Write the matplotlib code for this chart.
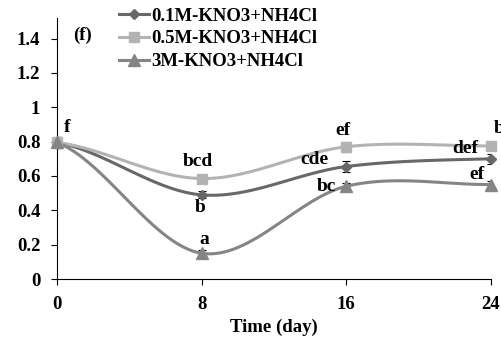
import numpy as np
import matplotlib.pyplot as plt
from matplotlib.lines import Line2D

plt.rcParams['font.family'] = ['Liberation Serif', 'DejaVu Serif']
plt.rcParams['font.weight'] = 'bold'

days = [0, 8, 16, 24]
series = ['0.1M-KNO3+NH4Cl', '0.5M-KNO3+NH4Cl', '3M-KNO3+NH4Cl']
vals_01 = [0.795, 0.49, 0.655, 0.70]
vals_05 = [0.795, 0.585, 0.77, 0.775]
vals_3 = [0.795, 0.15, 0.54, 0.55]
err_01 = [0.03, 0.02, 0.03, 0.03]
err_05 = [0.03, 0.02, 0.03, 0.02]
err_3 = [0.03, 0.02, 0.02, 0.02]
colors = ['#686868', '#b3b3b3', '#858585']
markers = ['D', 's', '^']
msizes = [5.5, 7.5, 8]

# letras de significancia: (dia, valor, texto, dx, dy) en pixeles
letras = [
    (0, 0.795, 'f', 10, 15),
    (8, 0.585, 'bcd', -4, 17),
    (8, 0.49, 'b', -2, -13),
    (8, 0.15, 'a', 3, 14),
    (16, 0.77, 'ef', -3, 16),
    (16, 0.655, 'cde', -32, 7),
    (16, 0.54, 'bc', -20, 0),
    (24, 0.775, 'def', -26, -3),
    (24, 0.775, 'bc', 12, 17),
    (24, 0.55, 'ef', -14, 10),
]

FS = 13.5


def catmull(x, y, n=40):
    # curva suavizada tipo Excel que pasa por los puntos
    x = np.asarray(x, float)
    y = np.asarray(y, float)
    px = np.concatenate([[2 * x[0] - x[1]], x, [2 * x[-1] - x[-2]]])
    py = np.concatenate([[y[0]], y, [y[-1]]])
    xs, ys = [], []
    for i in range(1, len(px) - 2):
        t = np.linspace(0, 1, n)
        for p, out in ((px, xs), (py, ys)):
            p0, p1, p2, p3 = p[i - 1], p[i], p[i + 1], p[i + 2]
            out.append(0.5 * (2 * p1 + (-p0 + p2) * t
                              + (2 * p0 - 5 * p1 + 4 * p2 - p3) * t ** 2
                              + (-p0 + 3 * p1 - 3 * p2 + p3) * t ** 3))
    return np.concatenate(xs), np.concatenate(ys)


fig = plt.figure(figsize=(5.01, 3.43), dpi=100)
ax = fig.add_axes([57 / 501, 64 / 343, 434 / 501, 261 / 343])

handles = []
for vals, errs, c, m, ms, lab in zip([vals_01, vals_05, vals_3], [err_01, err_05, err_3],
                                     colors, markers, msizes, series):
    sx, sy = catmull(days, vals)
    ax.plot(sx, sy, color=c, lw=2.2, zorder=2)
    ax.errorbar(days, vals, yerr=errs, fmt='none', ecolor='black', elinewidth=0.8,
                capsize=3, capthick=0.8, zorder=3)
    ax.plot(days, vals, linestyle='none', marker=m, color=c, markersize=ms, zorder=4,
            clip_on=False)
    handles.append(Line2D([], [], color=c, lw=2.2, marker=m, markersize=ms, label=lab))

for d, v, t, dx, dy in letras:
    ax.annotate(t, (d, v), xytext=(dx, dy), textcoords='offset pixels', ha='center',
                va='center', fontsize=14, fontweight='bold', annotation_clip=False)

fig.text(83 / 501, 1 - 35 / 343, '(f)', ha='center', va='center', fontsize=FS,
         fontweight='bold')

ax.set_xlim(0, 24)
ax.set_ylim(0, 1.52)
ax.set_xticks(days)
ax.set_yticks([0, 0.2, 0.4, 0.6, 0.8, 1, 1.2, 1.4])
ax.set_yticklabels(['0', '0.2', '0.4', '0.6', '0.8', '1', '1.2', '1.4'])
ax.tick_params(labelsize=FS, direction='out', length=4, width=0.8)
ax.tick_params(axis='x', pad=8.5)
ax.tick_params(axis='y', pad=8)
for lab in ax.get_xticklabels() + ax.get_yticklabels():
    lab.set_fontweight('bold')
ax.spines['top'].set_visible(False)
ax.spines['right'].set_visible(False)
ax.set_xlabel('Time (day)', fontsize=FS, fontweight='bold', labelpad=4)

ax.legend(handles=handles, loc='upper left', bbox_to_anchor=(119 / 501, 1 - 7.5 / 343),
          bbox_transform=fig.transFigure, frameon=False, borderaxespad=0, borderpad=0,
          handlelength=1.6, handletextpad=0.1, labelspacing=0.3,
          prop={'weight': 'bold', 'size': FS})

fig.savefig('out.png', dpi=100)
